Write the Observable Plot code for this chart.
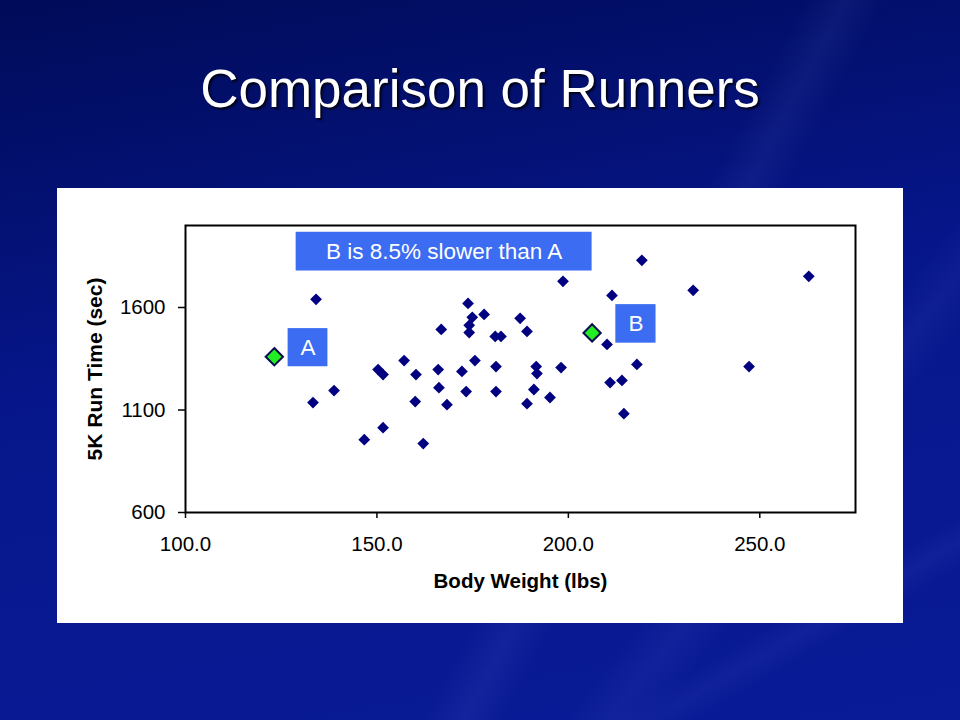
<!DOCTYPE html>
<html>
<head>
<meta charset="utf-8">
<script src="https://cdn.jsdelivr.net/npm/d3@7"></script>
<script src="https://cdn.jsdelivr.net/npm/@observablehq/plot@0.6"></script>
<style>
  html, body { margin: 0; padding: 0; }
  body {
    width: 960px; height: 720px; overflow: hidden; position: relative;
    font-family: Arial, "Liberation Sans", sans-serif;
    background:
      linear-gradient(118deg, rgba(255,255,255,0) 60%, rgba(140,160,255,0.07) 63%, rgba(255,255,255,0) 66%),
      linear-gradient(128deg, rgba(255,255,255,0) 74%, rgba(140,160,255,0.06) 77%, rgba(255,255,255,0) 80%),
      linear-gradient(150deg, rgba(255,255,255,0) 84%, rgba(140,160,255,0.05) 86%, rgba(255,255,255,0) 88%),
      linear-gradient(170deg, #000b58 0%, #06168a 45%, #0a1b98 100%);
  }
  #title {
    position: absolute; left: 0; top: 64px; width: 960px; height: 50px; line-height: 50px;
    text-align: center; color: #fff; font-size: 53px;
    font-family: Arial, "Liberation Sans", sans-serif;
    text-shadow: 2px 2px 2px rgba(0,0,0,0.8);
  }
  #panel {
    position: absolute; left: 57px; top: 188px; width: 846px; height: 435px; background: #fff;
  }
  #panel svg text.note { word-spacing: 3px; }
</style>
</head>
<body>
<div id="title">Comparison of Runners</div>
<div id="panel"></div>
<script>
// Runners: body weight (lbs) and 5K run time (sec)
const weights = [134.1, 133.3, 138.8, 146.7, 150.3, 151.6, 151.6, 157.1, 160.2, 160.0,
                 162.1, 166.0, 166.2, 166.8, 168.3, 172.2, 173.3, 173.8, 174.9, 174.1,
                 174.1, 175.6, 178.0, 181.1, 181.1, 180.9, 182.4, 187.4, 189.2, 189.2,
                 191.0, 191.6, 191.8, 195.2, 198.1, 198.6, 210.1, 210.9, 211.4, 214.0,
                 214.5, 217.9, 219.2, 232.6, 247.2, 262.8];
const times   = [1640, 1136, 1195, 955, 1297, 1273, 1014, 1341, 1273, 1141,
                 936, 1297, 1209, 1493, 1126, 1288, 1190, 1620, 1552, 1513,
                 1478, 1341, 1566, 1312, 1190, 1459, 1459, 1547, 1483, 1131,
                 1200, 1312, 1278, 1161, 1307, 1728, 1420, 1234, 1659, 1244,
                 1082, 1322, 1830, 1684, 1312, 1752];

// Highlighted runners
const highlightNames = ["A", "B"];
const highlightWeights = [123.2, 206.2];
const highlightTimes = [1360, 1476];

// Annotation boxes (data coordinates)
const noteLabels = ["B is 8.5% slower than A", "A", "B"];
const noteX1 = [128.9, 126.8, 212.4];
const noteX2 = [206.2, 137.2, 222.9];
const noteY1 = [1778, 1311, 1426];
const noteY2 = [1967, 1497, 1614];

// Axis ticks
const xTicks = [100, 150, 200, 250];
const yTicks = [600, 1100, 1600];

const runners = weights.map((w, i) => ({weight: w, time: times[i]}));
const highlights = highlightNames.map((n, i) => ({name: n, weight: highlightWeights[i], time: highlightTimes[i]}));
const notes = noteLabels.map((t, i) => ({
  text: t, x1: noteX1[i], x2: noteX2[i], y1: noteY1[i], y2: noteY2[i],
  cx: (noteX1[i] + noteX2[i]) / 2, cy: (noteY1[i] + noteY2[i]) / 2
}));

const chart = Plot.plot({
  width: 846,
  height: 435,
  marginTop: 37,
  marginRight: 48,
  marginBottom: 111,
  marginLeft: 128,
  style: {background: "#fff", color: "#000", fontFamily: "Arial, 'Liberation Sans', sans-serif", fontSize: "20px", overflow: "visible"},
  x: {domain: [100, 275]},
  y: {domain: [600, 2000]},
  marks: [
    Plot.axisX({ticks: xTicks, tickFormat: d3.format(".1f"), tickSize: 6, tickPadding: 18, label: null, fontSize: 20.5, strokeWidth: 1.5}),
    Plot.axisY({ticks: yTicks, tickFormat: d => String(d), tickSize: 7, tickPadding: 13, label: null, fontSize: 20.5, strokeWidth: 1.5}),
    Plot.frame({stroke: "#000", strokeWidth: 2}),
    Plot.rect(notes, {x1: "x1", x2: "x2", y1: "y1", y2: "y2", fill: "#3b6cf2"}),
    Plot.text(notes, {x: "cx", y: "cy", text: "text", fill: "#fff", fontSize: 22.5, lineAnchor: "middle", className: "note"}),
    Plot.dot(runners, {x: "weight", y: "time", symbol: "diamond2", r: 5.3, fill: "#000080", stroke: "none"}),
    Plot.dot(highlights, {x: "weight", y: "time", symbol: "diamond2", r: 7.8, fill: "#22ee22", stroke: "#0a0a50", strokeWidth: 2}),
    Plot.text(["Body Weight (lbs)"], {frameAnchor: "bottom", dy: 69, textAnchor: "middle", fontWeight: "bold", fontSize: 20.5, lineAnchor: "middle"}),
    Plot.text(["5K Run Time (sec)"], {frameAnchor: "left", dx: -90, rotate: -90, textAnchor: "middle", fontWeight: "bold", fontSize: 21, lineAnchor: "middle"})
  ]
});
document.getElementById("panel").appendChild(chart);
</script>
</body>
</html>
